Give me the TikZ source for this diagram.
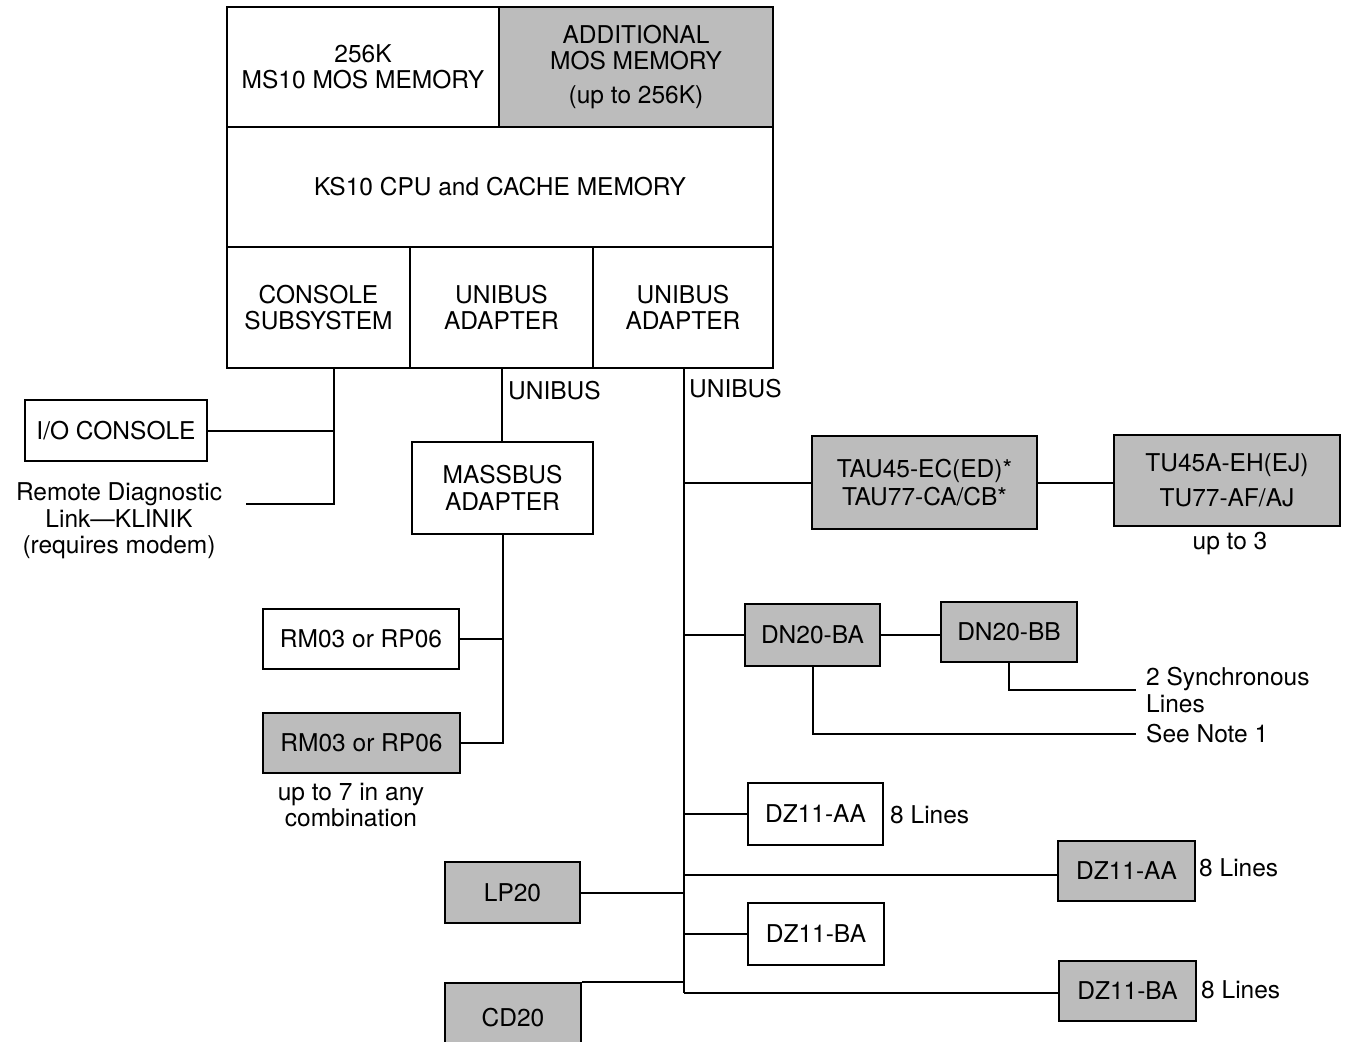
\documentclass[tikz,border=0pt]{standalone}
\usepackage{fontspec}
\setmainfont{TeX Gyre Heros}
\definecolor{halftone}{RGB}{188,188,188}
\begin{document}
\begin{tikzpicture}[x=1pt,y=-1pt,
  every node/.style={font=\fontsize{24.5}{26.5}\selectfont},
  box/.style={draw, line width=2pt, inner sep=0pt, align=center, fill=white},
  gbox/.style={box, fill=halftone},
  lbl/.style={inner sep=0pt, align=center},
  wire/.style={line width=2pt}]
\useasboundingbox (0,0) rectangle (1346,1041);
% top block
\node[box, minimum width=272, minimum height=120] (mem1) at (363,67) {256K\\MS10 MOS MEMORY};
\node[gbox, minimum width=274, minimum height=120] (mem2) at (636,67) {ADDITIONAL\\MOS MEMORY\\[7pt](up to 256K)};
\node[box, minimum width=546, minimum height=120] (cpu) at (500,187) {KS10 CPU and CACHE MEMORY};
\node[box, minimum width=183, minimum height=121] (con) at (318.5,307.5) {CONSOLE\\SUBSYSTEM};
\node[box, minimum width=183, minimum height=121] (ua1) at (501.5,307.5) {UNIBUS\\ADAPTER};
\node[box, minimum width=180, minimum height=121] (ua2) at (683,307.5) {UNIBUS\\ADAPTER};
% console side
\node[box, minimum width=182, minimum height=61] (io) at (116,430.5) {I/O CONSOLE};
\node[lbl] (remote) at (119,521) {Remote Diagnostic\\Link---KLINIK\\(requires modem)};
\coordinate (k1) at (334,504);
\coordinate (k2) at (246,504);
\draw[wire] (con.south -| k1) -- (k1) -- (k2);
\draw[wire] (io.east) -- (io.east -| k1);
% massbus side
\node[lbl, anchor=west] (ub1) at (508,391) {UNIBUS};
\node[box, minimum width=181, minimum height=92] (mb) at (502.5,488) {MASSBUS\\ADAPTER};
\draw[wire] (ua1.south) -- (ua1.south |- mb.north);
\node[box, minimum width=196, minimum height=60] (rm1) at (361,639) {RM03 or RP06};
\node[gbox, minimum width=197, minimum height=60] (rm2) at (361.5,743) {RM03 or RP06};
\node[lbl] (upto7) at (351,805) {up to 7 in any\\combination};
\draw[wire] (mb.south) -- (mb.south |- rm2.east) -- (rm2.east);
\draw[wire] (rm1.east) -- (rm1.east -| mb.south);
% unibus right
\node[lbl, anchor=west] (ub2) at (689,389) {UNIBUS};
\coordinate (bus) at (684,368);
\coordinate (busend) at (684,993);
\draw[wire] (bus) -- (busend);
\node[gbox, minimum width=225, minimum height=93] (tau) at (924.5,482.5) {TAU45-EC(ED)*\\[1pt]TAU77-CA/CB*};
\node[gbox, minimum width=226, minimum height=91] (tu) at (1227,480.5) {TU45A-EH(EJ)\\[8pt]TU77-AF/AJ};
\node[lbl] (upto3) at (1230,543) {up to 3};
\draw[wire] (tau.west -| bus) -- (tau.west);
\draw[wire] (tau.east) -- (tau.east -| tu.west);
\node[gbox, minimum width=135, minimum height=62] (dnba) at (812.5,635) {DN20-BA};
\node[gbox, minimum width=136, minimum height=60] (dnbb) at (1009,632) {DN20-BB};
\draw[wire] (dnba.west -| bus) -- (dnba.west);
\draw[wire] (dnba.east) -- (dnba.east -| dnbb.west);
\node[lbl, anchor=west, align=left] (sync) at (1146,690) {2 Synchronous\\Lines};
\node[lbl, anchor=west] (note) at (1146,734) {See Note 1};
\draw[wire] (dnbb.south) -- (dnbb.south |- sync.west) -- ([xshift=-10pt]sync.west);
\draw[wire] (dnba.south) -- (dnba.south |- note.west) -- ([xshift=-10pt]note.west);
\node[box, minimum width=135, minimum height=62] (dzaa1) at (815.5,814) {DZ11-AA};
\node[lbl, anchor=west] (l1) at (890,815) {8 Lines};
\draw[wire] (dzaa1.west -| bus) -- (dzaa1.west);
\node[gbox, minimum width=137, minimum height=60] (dzaa2) at (1126.5,871) {DZ11-AA};
\node[lbl, anchor=west] (l2) at (1199,868) {8 Lines};
\draw[wire] (bus |- 0,875) -- (dzaa2.west |- 0,875);
\node[gbox, minimum width=135, minimum height=61] (lp) at (512.5,892.5) {LP20};
\draw[wire] (lp.east) -- (lp.east -| bus);
\node[box, minimum width=136, minimum height=62] (dzba1) at (816,934) {DZ11-BA};
\draw[wire] (dzba1.west -| bus) -- (dzba1.west);
\node[gbox, minimum width=136, minimum height=70, anchor=north] (cd) at (513,982) {CD20};
\draw[wire] (cd.north east) -- (cd.north east -| bus);
\node[gbox, minimum width=137, minimum height=60] (dzba2) at (1127.5,991) {DZ11-BA};
\node[lbl, anchor=west] (l3) at (1201,990) {8 Lines};
\draw[wire] (busend) -- (dzba2.west |- busend);
\end{tikzpicture}
\end{document}
